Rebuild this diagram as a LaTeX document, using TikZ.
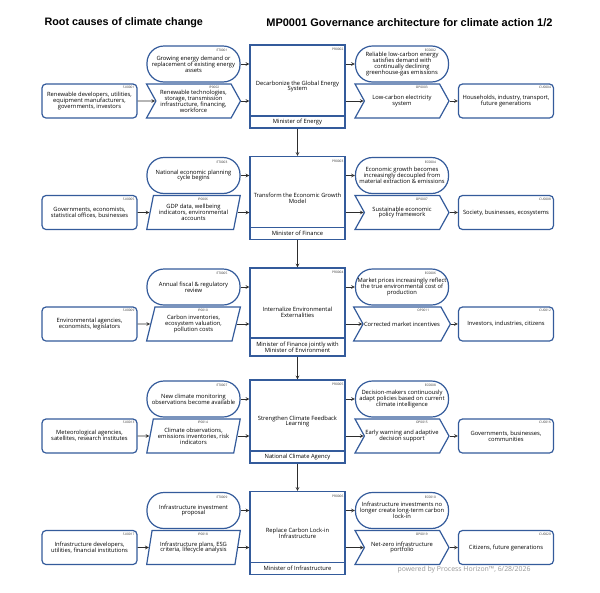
\documentclass[tikz,border=0pt]{standalone}
\usepackage{fontspec}
\setmainfont{Open Sans}
\newfontfamily\titlefont{Liberation Sans}
\usetikzlibrary{shapes.geometric,shapes.symbols}

\definecolor{boxblue}{RGB}{52,91,155}
\definecolor{arrowgray}{RGB}{45,45,45}
\definecolor{footgray}{RGB}{150,150,150}

\tikzset{
    box/.style={draw=boxblue, line width=1.2pt, fill=white, align=center,
        font=\fontsize{5.8}{5.9}\selectfont, inner sep=1pt},
    event/.style={box, rounded corners=17pt, minimum width=93pt, minimum height=36pt},
    party/.style={box, rounded corners=4pt, minimum width=95pt, minimum height=34pt},
    chevron/.style={box, signal, signal from=west, signal to=east,
        signal pointer angle=122, minimum width=94pt, minimum height=34pt},
    slanted/.style={box, trapezium, trapezium left angle=72, trapezium right angle=108,
        trapezium stretches=true, minimum width=94pt, minimum height=34pt},
    process/.style={box, minimum width=95pt, minimum height=83pt},
    role/.style={box, minimum width=95pt, minimum height=12pt, anchor=south},
    idtag/.style={anchor=north east, inner sep=0pt, text=black!80,
        font=\fontsize{3.2}{3.5}\selectfont},
    flow/.style={->, arrowgray, line width=0.7pt},
}

\begin{document}
\begin{tikzpicture}[>=stealth, x=1pt, y=-1pt]
    \useasboundingbox (0,0) rectangle (600,592);

    \node[anchor=west, font=\titlefont\bfseries\fontsize{10.8}{12}\selectfont] (lefttitle) at (41,23) {Root causes of climate change};
    \node[anchor=east, font=\titlefont\bfseries\fontsize{11}{12}\selectfont] (righttitle) at (556,23) {MP0001 Governance architecture for climate action 1/2};

    % row 1
    \node[event, label={[idtag, xshift=-13pt, yshift=-4pt]north east:ET0001}] (et1) at (193.5,64) {Growing energy demand or\\replacement of existing energy\\assets};
    \node[process, label={[idtag, xshift=-2pt, yshift=-4pt]north east:PR0002}] (pr1) at (297.5,86.5) {Decarbonize the Global Energy\\System};
    \node[role] (rl1) at (pr1.south) {Minister of Energy};
    \node[event, label={[idtag, xshift=-13pt, yshift=-4pt]north east:EC0002}] (ec1) at (402,64) {Reliable low-carbon energy\\satisfies demand with\\continually declining\\greenhouse-gas emissions};
    \node[party, label={[idtag, xshift=-3pt, yshift=-3pt]north east:SU0001}] (su1) at (89.5,101) {Renewable developers, utilities,\\equipment manufacturers,\\governments, investors};
    \node[chevron, label={[idtag, xshift=-12pt, yshift=-3pt]north east:IP0002}] (ip1) at (193.5,101) {Renewable technologies,\\storage, transmission\\infrastructure, financing,\\workforce};
    \node[chevron, label={[idtag, xshift=-12pt, yshift=-3pt]north east:OP0003}] (op1) at (402,101) {Low-carbon electricity\\system};
    \node[party, label={[idtag, xshift=-3pt, yshift=-3pt]north east:CU0004}] (cu1) at (506,101) {Households, industry, transport,\\future generations};

    % row 2
    \node[event, label={[idtag, xshift=-13pt, yshift=-4pt]north east:ET0003}] (et2) at (193.5,175.5) {National economic planning\\cycle begins};
    \node[process, label={[idtag, xshift=-2pt, yshift=-4pt]north east:PR0003}] (pr2) at (297.5,198) {Transform the Economic Growth\\Model};
    \node[role] (rl2) at (pr2.south) {Minister of Finance};
    \node[event, label={[idtag, xshift=-13pt, yshift=-4pt]north east:EC0004}] (ec2) at (402,175.5) {Economic growth becomes\\increasingly decoupled from\\material extraction \& emissions};
    \node[party, label={[idtag, xshift=-3pt, yshift=-3pt]north east:SU0005}] (su2) at (89.5,212.5) {Governments, economists,\\statistical offices, businesses};
    \node[slanted, label={[idtag, xshift=-3pt, yshift=-3pt]north east:IP0006}] (ip2) at (193.5,212.5) {GDP data, wellbeing\\indicators, environmental\\accounts};
    \node[chevron, label={[idtag, xshift=-12pt, yshift=-3pt]north east:OP0007}] (op2) at (402,212.5) {Sustainable economic\\policy framework};
    \node[party, label={[idtag, xshift=-3pt, yshift=-3pt]north east:CU0008}] (cu2) at (506,212.5) {Society, businesses, ecosystems};

    % row 3
    \node[event, label={[idtag, xshift=-13pt, yshift=-4pt]north east:ET0005}] (et3) at (193.5,287) {Annual fiscal \& regulatory\\review};
    \node[process, minimum height=88pt, label={[idtag, xshift=-2pt, yshift=-4pt]north east:PR0004}] (pr3) at (297.5,312) {Internalize Environmental\\Externalities};
    \node[role, minimum height=18pt] (rl3) at (pr3.south) {Minister of Finance jointly with\\Minister of Environment};
    \node[event, label={[idtag, xshift=-13pt, yshift=-4pt]north east:EC0006}] (ec3) at (402,287) {Market prices increasingly reflect\\the true environmental cost of\\production};
    \node[party, label={[idtag, xshift=-3pt, yshift=-3pt]north east:SU0009}] (su3) at (89.5,324) {Environmental agencies,\\economists, legislators};
    \node[slanted, label={[idtag, xshift=-3pt, yshift=-3pt]north east:IP0010}] (ip3) at (193.5,324) {Carbon inventories,\\ecosystem valuation,\\pollution costs};
    \node[chevron, label={[idtag, xshift=-12pt, yshift=-3pt]north east:OP0011}] (op3) at (402,324) {Corrected market incentives};
    \node[party, label={[idtag, xshift=-3pt, yshift=-3pt]north east:CU0012}] (cu3) at (506,324) {Investors, industries, citizens};

    % row 4
    \node[event, label={[idtag, xshift=-13pt, yshift=-4pt]north east:ET0007}] (et4) at (193.5,399) {New climate monitoring\\observations become available};
    \node[process, label={[idtag, xshift=-2pt, yshift=-4pt]north east:PR0005}] (pr4) at (297.5,421.5) {Strengthen Climate Feedback\\Learning};
    \node[role] (rl4) at (pr4.south) {National Climate Agency};
    \node[event, label={[idtag, xshift=-13pt, yshift=-4pt]north east:EC0008}] (ec4) at (402,399) {Decision-makers continuously\\adapt policies based on current\\climate intelligence};
    \node[party, label={[idtag, xshift=-3pt, yshift=-3pt]north east:SU0013}] (su4) at (89.5,436) {Meteorological agencies,\\satellites, research institutes};
    \node[slanted, label={[idtag, xshift=-3pt, yshift=-3pt]north east:IP0014}] (ip4) at (193.5,436) {Climate observations,\\emissions inventories, risk\\indicators};
    \node[chevron, label={[idtag, xshift=-12pt, yshift=-3pt]north east:OP0015}] (op4) at (402,436) {Early warning and adaptive\\decision support};
    \node[party, label={[idtag, xshift=-3pt, yshift=-3pt]north east:CU0016}] (cu4) at (506,436) {Governments, businesses,\\communities};

    % row 5
    \node[event, label={[idtag, xshift=-13pt, yshift=-4pt]north east:ET0009}] (et5) at (193.5,510.5) {Infrastructure investment\\proposal};
    \node[process, label={[idtag, xshift=-2pt, yshift=-4pt]north east:PR0006}] (pr5) at (297.5,533) {Replace Carbon Lock-in\\Infrastructure};
    \node[role] (rl5) at (pr5.south) {Minister of Infrastructure};
    \node[event, label={[idtag, xshift=-13pt, yshift=-4pt]north east:EC0010}] (ec5) at (402,510.5) {Infrastructure investments no\\longer create long-term carbon\\lock-in};
    \node[party, label={[idtag, xshift=-3pt, yshift=-3pt]north east:SU0017}] (su5) at (89.5,547.5) {Infrastructure developers,\\utilities, financial institutions};
    \node[slanted, label={[idtag, xshift=-3pt, yshift=-3pt]north east:IP0018}] (ip5) at (193.5,547.5) {Infrastructure plans, ESG\\criteria, lifecycle analysis};
    \node[chevron, label={[idtag, xshift=-12pt, yshift=-3pt]north east:OP0019}] (op5) at (402,547.5) {Net-zero infrastructure\\portfolio};
    \node[party, label={[idtag, xshift=-3pt, yshift=-3pt]north east:CU0020}] (cu5) at (506,547.5) {Citizens, future generations};

    \node[anchor=west, text=footgray, font=\fontsize{6.9}{7.5}\selectfont] (credit) at (394,570) {powered by Process Horizon™, 6/28/2026};

    % connectors
    \draw[flow] (et1.east) -- (et1.east -| pr1.west);
    \draw[flow] (su1) -- (ip1);
    \draw[flow] (ip1.east) -- (ip1.east -| pr1.west);
    \draw[flow] (pr1.east |- ec1.west) -- (ec1.west);
    \draw[flow] (pr1.east |- op1.west) -- (op1.west);
    \draw[flow] (op1.east) -- (cu1.west);
    \draw[flow] (rl1.south) -- (pr2.north);

    \draw[flow] (et2.east) -- (et2.east -| pr2.west);
    \draw[flow] (su2) -- (ip2);
    \draw[flow] (ip2.east) -- (ip2.east -| pr2.west);
    \draw[flow] (pr2.east |- ec2.west) -- (ec2.west);
    \draw[flow] (pr2.east |- op2.west) -- (op2.west);
    \draw[flow] (op2.east) -- (cu2.west);
    \draw[flow] (rl2.south) -- (pr3.north);

    \draw[flow] (et3.east) -- (et3.east -| pr3.west);
    \draw[flow] (su3) -- (ip3);
    \draw[flow] (ip3.east) -- (ip3.east -| pr3.west);
    \draw[flow] (pr3.east |- ec3.west) -- (ec3.west);
    \draw[flow] (pr3.east |- op3.west) -- (op3.west);
    \draw[flow] (op3.east) -- (cu3.west);
    \draw[flow] (rl3.south) -- (pr4.north);

    \draw[flow] (et4.east) -- (et4.east -| pr4.west);
    \draw[flow] (su4) -- (ip4);
    \draw[flow] (ip4.east) -- (ip4.east -| pr4.west);
    \draw[flow] (pr4.east |- ec4.west) -- (ec4.west);
    \draw[flow] (pr4.east |- op4.west) -- (op4.west);
    \draw[flow] (op4.east) -- (cu4.west);
    \draw[flow] (rl4.south) -- (pr5.north);

    \draw[flow] (et5.east) -- (et5.east -| pr5.west);
    \draw[flow] (su5) -- (ip5);
    \draw[flow] (ip5.east) -- (ip5.east -| pr5.west);
    \draw[flow] (pr5.east |- ec5.west) -- (ec5.west);
    \draw[flow] (pr5.east |- op5.west) -- (op5.west);
    \draw[flow] (op5.east) -- (cu5.west);
\end{tikzpicture}
\end{document}
